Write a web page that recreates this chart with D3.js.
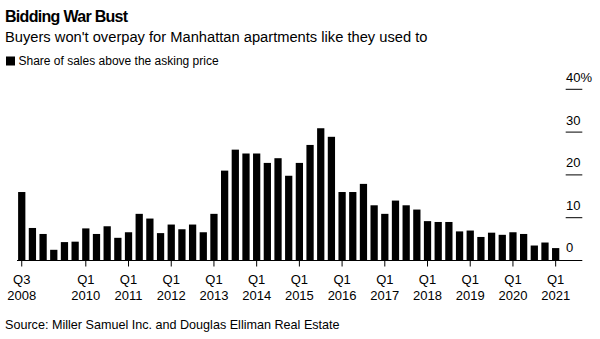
<!DOCTYPE html>
<html>
<head>
<meta charset="utf-8">
<script src="https://cdn.jsdelivr.net/npm/d3@7"></script>
<style>
  body { margin: 0; background: #fff; }
  svg { display: block; font-family: "Liberation Sans", Arial, sans-serif; }
</style>
</head>
<body>
<svg></svg>
<script>
// quarters, Q3 2008 .. Q1 2021
const quarters = [
  "2008Q3","2008Q4",
  "2009Q1","2009Q2","2009Q3","2009Q4",
  "2010Q1","2010Q2","2010Q3","2010Q4",
  "2011Q1","2011Q2","2011Q3","2011Q4",
  "2012Q1","2012Q2","2012Q3","2012Q4",
  "2013Q1","2013Q2","2013Q3","2013Q4",
  "2014Q1","2014Q2","2014Q3","2014Q4",
  "2015Q1","2015Q2","2015Q3","2015Q4",
  "2016Q1","2016Q2","2016Q3","2016Q4",
  "2017Q1","2017Q2","2017Q3","2017Q4",
  "2018Q1","2018Q2","2018Q3","2018Q4",
  "2019Q1","2019Q2","2019Q3","2019Q4",
  "2020Q1","2020Q2","2020Q3","2020Q4",
  "2021Q1"
];

// share of sales above asking price (%)
const aboveAsking = [
  16.0, 7.6,
  6.2, 2.5, 4.3, 4.4,
  7.5, 6.2, 8.0, 5.3,
  6.6, 10.9, 9.8, 6.4,
  8.4, 7.3, 8.4, 6.6,
  10.9, 21.0, 25.9, 25.0,
  25.0, 22.8, 23.9, 19.8,
  22.8, 27.0, 30.9, 28.9,
  16.0, 16.0, 17.9, 12.9,
  10.9, 14.0, 12.9, 11.9,
  9.2, 9.0, 9.0, 6.8,
  7.0, 5.5, 6.5, 6.0,
  6.6, 6.2, 3.5, 4.2,
  2.9
];

// labelled x ticks
const xTicks = ["2008Q3","2010Q1","2011Q1","2012Q1","2013Q1","2014Q1","2015Q1",
                "2016Q1","2017Q1","2018Q1","2019Q1","2020Q1","2021Q1"];
const yTicks = [0, 10, 20, 30, 40];

const width = 600, height = 339;

const svg = d3.select('svg')
              .attr('width', width)
              .attr('height', height);

const x = d3.scaleBand()
            .domain(quarters)
            .range([16.4, 561])
            .paddingInner(0.32)
            .paddingOuter(0.16);

const y = d3.scaleLinear()
            .domain([0, 40])
            .range([260.5, 89.3]);

// header
svg.append('text')
   .attr('x', 5).attr('y', 21.5)
   .attr('font-size', '16px').attr('font-weight', 'bold')
   .attr('letter-spacing', '-0.7')
   .attr('fill', '#000')
   .text('Bidding War Bust');

svg.append('text')
   .attr('x', 5).attr('y', 41.5)
   .attr('font-size', '14.7px')
   .attr('fill', '#000')
   .text("Buyers won't overpay for Manhattan apartments like they used to");

// legend
svg.append('rect')
   .attr('x', 6).attr('y', 56.5)
   .attr('width', 9).attr('height', 9)
   .attr('fill', '#000');

svg.append('text')
   .attr('x', 18.5).attr('y', 65)
   .attr('font-size', '12px')
   .attr('fill', '#000')
   .text('Share of sales above the asking price');

// y grid stubs + labels on the right
const yAxis = svg.append('g').attr('class', 'y axis');

yAxis.selectAll('line')
     .data(yTicks.filter(d => d > 0))
     .enter().append('line')
     .attr('x1', 565.7).attr('x2', 582.3)
     .attr('y1', d => y(d)).attr('y2', d => y(d))
     .attr('stroke', '#000').attr('stroke-width', 1);

yAxis.selectAll('text')
     .data(yTicks)
     .enter().append('text')
     .attr('x', 566)
     .attr('y', d => y(d) - (d === 0 ? 8.5 : 7.5))
     .attr('font-size', '13px')
     .attr('fill', '#000')
     .text(d => d === 40 ? d + '%' : d);

// bars
svg.append('g').attr('id', 'bars')
   .selectAll('rect')
   .data(aboveAsking)
   .enter().append('rect')
   .attr('x', (d, i) => x(quarters[i]))
   .attr('y', d => y(d))
   .attr('width', x.bandwidth())
   .attr('height', d => y(0) - y(d))
   .attr('fill', '#000');

// baseline
svg.append('line')
   .attr('x1', 17).attr('x2', 582.3)
   .attr('y1', y(0)).attr('y2', y(0))
   .attr('stroke', '#000').attr('stroke-width', 1.2);

// x ticks + labels
const xAxis = svg.append('g').attr('class', 'x axis');
const cx = q => x(q) + x.bandwidth() / 2;

xAxis.selectAll('line')
     .data(xTicks)
     .enter().append('line')
     .attr('x1', cx).attr('x2', cx)
     .attr('y1', y(0)).attr('y2', y(0) + 6)
     .attr('stroke', '#000').attr('stroke-width', 1);

xAxis.selectAll('text.q')
     .data(xTicks)
     .enter().append('text')
     .attr('class', 'q')
     .attr('x', cx).attr('y', 284)
     .attr('text-anchor', 'middle')
     .attr('font-size', '13px')
     .text(d => d.slice(4));

xAxis.selectAll('text.yr')
     .data(xTicks)
     .enter().append('text')
     .attr('class', 'yr')
     .attr('x', cx).attr('y', 300)
     .attr('text-anchor', 'middle')
     .attr('font-size', '13px')
     .text(d => d.slice(0, 4));

// source
svg.append('text')
   .attr('x', 5).attr('y', 328.5)
   .attr('font-size', '12.6px')
   .attr('fill', '#000')
   .text('Source: Miller Samuel Inc. and Douglas Elliman Real Estate');
</script>
</body>
</html>
